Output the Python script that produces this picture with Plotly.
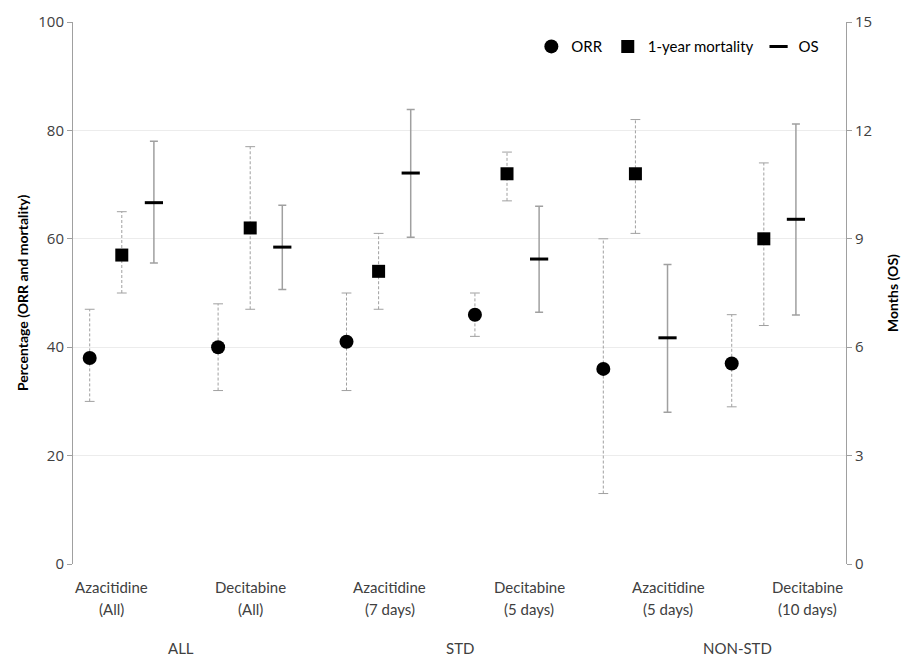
import plotly.graph_objects as go

cat_line1 = ["Azacitidine", "Decitabine", "Azacitidine", "Decitabine", "Azacitidine", "Decitabine"]
cat_line2 = ["(All)", "(All)", "(7 days)", "(5 days)", "(5 days)", "(10 days)"]
groups = ["ALL", "STD", "NON-STD"]

orr = [38, 40, 41, 46, 36, 37]
orr_lo = [30, 32, 32, 42, 13, 29]
orr_hi = [47, 48, 50, 50, 60, 46]

mort = [57, 62, 54, 72, 72, 60]
mort_lo = [50, 47, 47, 67, 61, 44]
mort_hi = [65, 77, 61, 76, 82, 74]

os_m = [10.0, 8.77, 10.82, 8.44, 6.26, 9.54]
os_lo = [8.33, 7.6, 9.04, 6.97, 4.2, 6.89]
os_hi = [11.7, 9.93, 12.58, 9.9, 8.29, 12.18]

left_ticks = [0, 20, 40, 60, 80, 100]
right_ticks = [0, 3, 6, 9, 12, 15]

idx = list(range(len(cat_line1)))
x_orr = [i - 0.25 for i in idx]
x_mort = [i for i in idx]
x_os = [i + 0.25 for i in idx]

GREY = "#a0a0a0"
TXT = "#404040"
LAB_FONT = "Lato, 'Open Sans', sans-serif"
TICK_FONT = "'Open Sans', 'DejaVu Sans', sans-serif"

fig = go.Figure()


def dashed_bars(xs, lo, hi):
    lx, ly = [], []
    for x, a, b in zip(xs, lo, hi):
        lx += [x, x, None]
        ly += [a, b, None]
    fig.add_trace(go.Scatter(x=lx, y=ly, mode="lines", showlegend=False, hoverinfo="skip",
                             line=dict(color=GREY, width=1, dash="3px,2px")))
    fig.add_trace(go.Scatter(x=list(xs) + list(xs), y=list(lo) + list(hi), mode="markers",
                             showlegend=False, hoverinfo="skip",
                             marker=dict(symbol="line-ew", size=7, color=GREY,
                                         line=dict(color=GREY, width=1))))


dashed_bars(x_orr, orr_lo, orr_hi)
dashed_bars(x_mort, mort_lo, mort_hi)

fig.add_trace(go.Scatter(x=x_orr, y=orr, mode="markers", name="ORR",
                         marker=dict(symbol="circle", size=14, color="black")))
fig.add_trace(go.Scatter(x=x_mort, y=mort, mode="markers", name="1-year mortality",
                         marker=dict(symbol="square", size=13, color="black")))
fig.add_trace(go.Scatter(
    x=x_os, y=os_m, mode="markers", name="OS", yaxis="y2",
    marker=dict(symbol="line-ew", size=13, color="black", line=dict(color="black", width=3)),
    error_y=dict(type="data", symmetric=False,
                 array=[h - m for h, m in zip(os_hi, os_m)],
                 arrayminus=[m - l for m, l in zip(os_m, os_lo)],
                 color=GREY, thickness=1.5, width=4)))

annotations = []
for i, (c1, c2) in enumerate(zip(cat_line1, cat_line2)):
    for txt, shift in ((c1, -23), (c2, -45)):
        annotations.append(dict(text=txt, xref="paper", yref="paper", x=0.05 + 0.18 * i, y=0,
                                xanchor="center", yanchor="middle", yshift=shift,
                                showarrow=False,
                                font=dict(family=LAB_FONT, size=15, color=TXT)))
for j, g in enumerate(groups):
    annotations.append(dict(text=g, xref="paper", yref="paper", x=0.14 + 0.36 * j, y=0,
                            xanchor="center", yanchor="middle", yshift=-84, showarrow=False,
                            font=dict(family=LAB_FONT, size=15, color=TXT)))
annotations.append(dict(text="<b>Percentage (ORR and mortality)</b>", xref="paper", yref="paper",
                        x=0, xshift=-51, y=0.5, xanchor="center", yanchor="middle",
                        textangle=-90, showarrow=False,
                        font=dict(family=LAB_FONT, size=14, color="black")))
annotations.append(dict(text="<b>Months (OS)</b>", xref="paper", yref="paper",
                        x=1, xshift=46, y=0.5, xanchor="center", yanchor="middle",
                        textangle=-90, showarrow=False,
                        font=dict(family=LAB_FONT, size=14, color="black")))

fig.update_layout(
    width=905, height=659,
    margin=dict(l=73, r=59, t=22, b=95),
    plot_bgcolor="white", paper_bgcolor="white",
    showlegend=True,
    legend=dict(orientation="h", x=0.972, xanchor="right", y=0.985, yanchor="top",
                font=dict(family=LAB_FONT, size=15, color="black"),
                bgcolor="rgba(0,0,0,0)", itemwidth=30, tracegroupgap=0),
    xaxis=dict(range=[-0.38, 5.64], showticklabels=False, showgrid=False, zeroline=False,
               showline=False, ticks=""),
    yaxis=dict(range=[0, 100], tickvals=left_ticks, showgrid=True, gridcolor="#ececec",
               gridwidth=1, zeroline=False, showline=True, linecolor=GREY, linewidth=1,
               ticks="outside", ticklen=5, tickcolor=GREY,
               tickfont=dict(family=TICK_FONT, size=15, color=TXT)),
    yaxis2=dict(range=[0, 15], tickvals=right_ticks, overlaying="y", side="right",
                showgrid=False, zeroline=False, showline=True, linecolor=GREY, linewidth=1,
                ticks="outside", ticklen=5, tickcolor=GREY,
                tickfont=dict(family=TICK_FONT, size=15, color=TXT)),
    annotations=annotations,
)

fig.write_html("out.html", config={"displayModeBar": False},
               post_script="document.body.style.margin='0';")
